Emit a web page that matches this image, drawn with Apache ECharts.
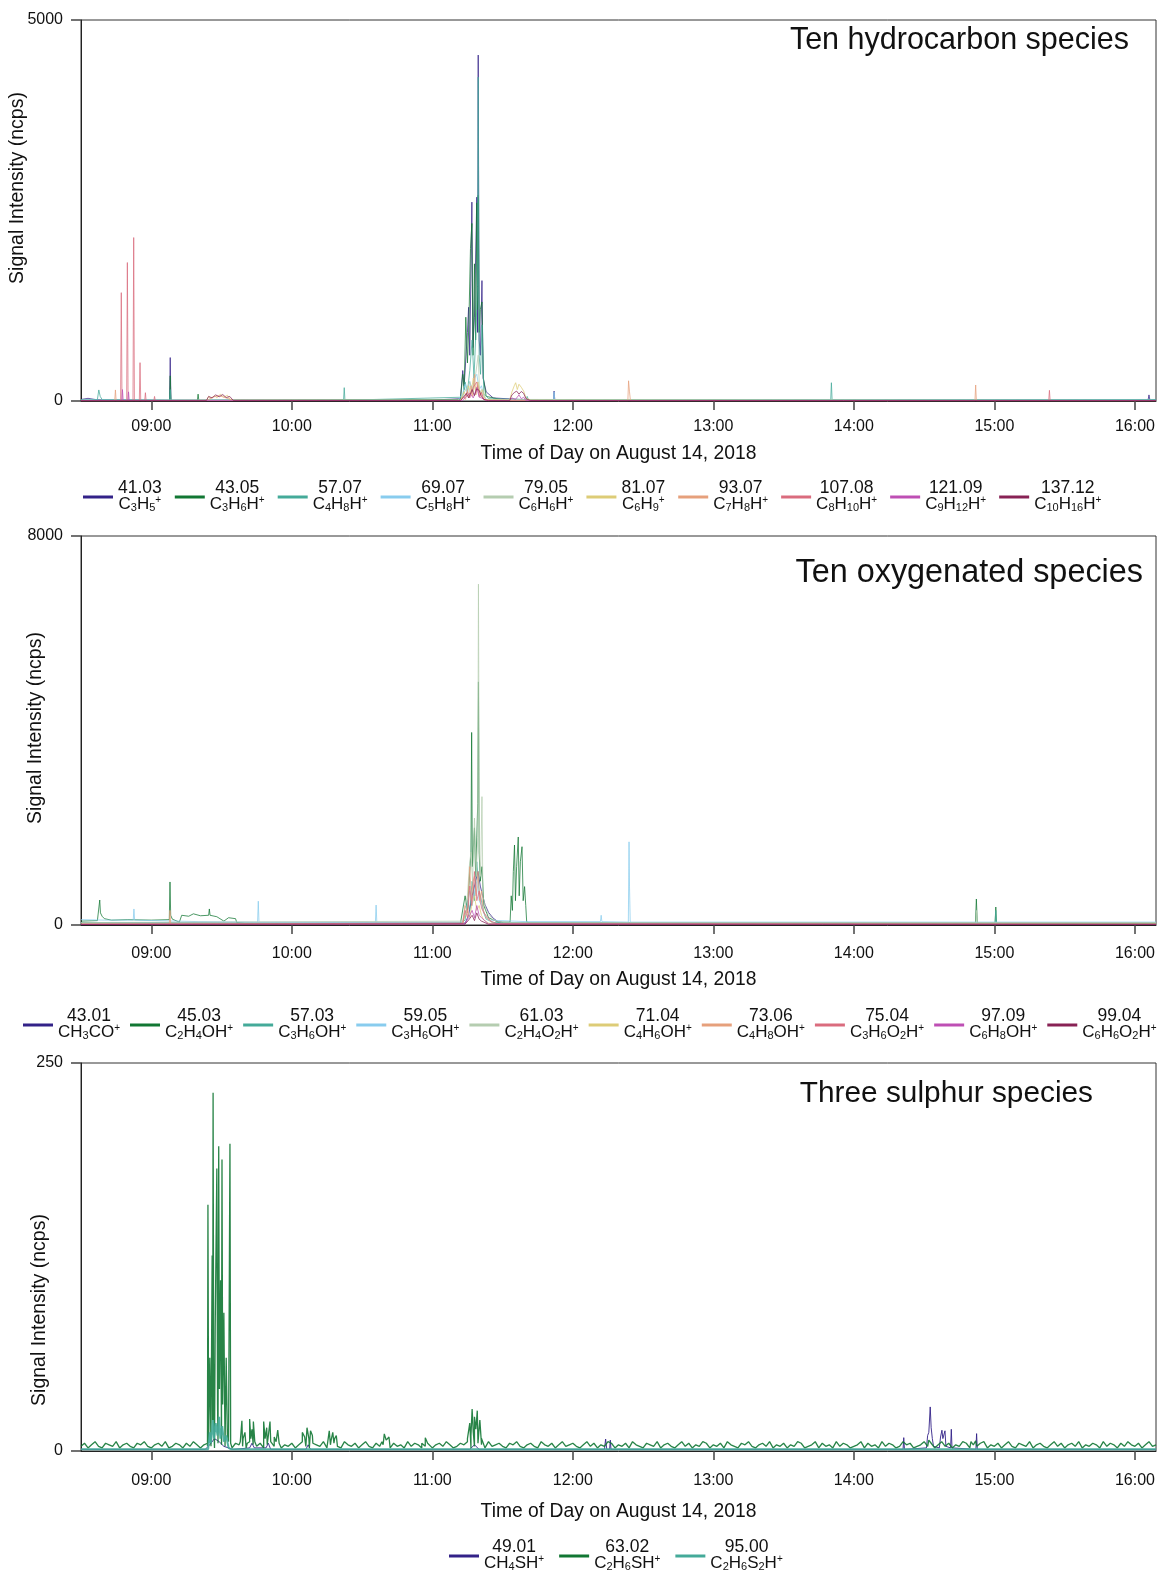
<!DOCTYPE html>
<html>
<head>
<meta charset="utf-8">
<script src="https://cdn.jsdelivr.net/npm/echarts@6/dist/echarts.min.js"></script>
<style>
  html, body { margin: 0; padding: 0; background: #fff; }
  #chart { width: 1159px; height: 1575px; }
</style>
</head>
<body>
<div id="chart"></div>
<script>
// Time is given in minutes of the day (e.g. 540 = 09:00).
const tickLabels = ['09:00', '10:00', '11:00', '12:00', '13:00', '14:00', '15:00', '16:00'];
const timeMin = 510;   // 08:30
const timeMax = 969;   // 16:09

const panelTitles = ['Ten hydrocarbon species', 'Ten oxygenated species', 'Three sulphur species'];
const panelYMax = [5000, 8000, 250];

// ---------- Hydrocarbons ----------
const hcNames = ['41.03', '43.05', '57.07', '69.07', '79.05', '81.07', '93.07', '107.08', '121.09', '137.12'];
const hcFormulas = ['C_3H_5^+', 'C_3H_6H^+', 'C_4H_8H^+', 'C_5H_8H^+', 'C_6H_6H^+', 'C_6H_9^+', 'C_7H_8H^+', 'C_8H_10H^+', 'C_9H_12H^+', 'C_10H_16H^+'];

const hc4103 = [[510,20],[513,35],[516,20],[520,15],[547.8,10],[548.1,570],[548.4,10],[600,10],[660,12],[672,30],[673,400],[673.6,200],[675,900],[675.5,1230],[676,600],[676.9,2610],[677.3,700],[678,1100],[679,2675],[679.3,900],[679.6,4540],[680,800],[680.5,600],[681.2,1580],[681.7,300],[683,120],[686,40],[700,15],[711.7,10],[712,130],[712.3,10],[780,10],[900,12],[965.6,10],[966,80],[966.4,10],[969,15]];
const hc4305 = [[510,10],[547.8,10],[548.1,330],[548.4,10],[559.7,10],[560,90],[560.3,10],[672,20],[673,350],[673.6,150],[674.3,1100],[675,500],[675.6,1000],[676.3,2000],[676.9,2330],[677.4,600],[678,1800],[678.5,800],[679,2600],[679.3,1200],[679.6,2700],[680,900],[680.5,1200],[681.2,1300],[681.8,300],[683,60],[690,15],[969,10]];
const hc5707 = [[510,15],[517,20],[517.6,145],[518.2,60],[519,20],[547.8,10],[548.1,150],[548.4,10],[622.1,10],[622.4,175],[622.7,10],[673,50],[674,250],[675,120],[676,400],[677,800],[677.8,300],[678.6,900],[679.3,1500],[679.6,4250],[680,600],[680.6,350],[681.2,1000],[682,100],[684,30],[700,20],[700.5,60],[701,20],[830.1,15],[830.4,240],[830.7,15],[969,20]];
const hc6907 = [[510,12],[600,10],[671,10],[673,100],[674,220],[675,90],[676,260],[677,120],[678,300],[679,350],[680,150],[681,200],[682,60],[683,20],[711.7,10],[712,120],[712.3,10],[760,10],[969,10]];
const hc7905 = [[510,8],[672,10],[673,80],[674.5,160],[676,250],[677.5,120],[679.6,600],[680.2,100],[681,150],[683,20],[969,8]];
const hc8107 = [[510,5],[563.5,5],[564.5,60],[565.5,30],[567,70],[568,40],[569.5,90],[571,50],[572.5,75],[574,10],[672,10],[673.5,120],[674.5,60],[675.5,200],[676.5,90],[677.5,300],[678.5,120],[679.5,250],[680.5,80],[681.5,150],[682.5,20],[693,10],[694,120],[695,200],[695.6,240],[696.3,150],[697,220],[698,180],[699,130],[700,40],[702,10],[969,5]];
const hc9307 = [[510,5],[524.4,5],[524.7,145],[525,5],[564,10],[566,50],[569,70],[572,40],[575,8],[672,8],[673.5,60],[674.2,20],[675,150],[675.6,40],[676.5,200],[677.2,60],[678,350],[678.6,80],[679.5,200],[680.3,50],[681,120],[681.7,30],[683,10],[743.5,5],[743.8,265],[744.2,120],[744.6,5],[891.7,5],[892,210],[892.3,5],[969,5]];
const hc10708 = [[510,5],[526.9,5],[527.2,1422],[527.5,5],[529.5,5],[529.8,1817],[530.1,5],[532.2,5],[532.5,2145],[532.8,5],[534.9,5],[535.2,503],[535.5,5],[537.2,5],[537.5,109],[537.8,5],[541.1,5],[541.4,60],[541.7,5],[672,5],[674,60],[675,120],[676,40],[677.5,180],[679,250],[680,60],[681,110],[682,20],[684,5],[923.2,5],[923.5,140],[923.8,5],[969,5]];
const hc12109 = [[510,5],[527.4,5],[527.7,150],[528,5],[530,5],[530.3,120],[530.6,5],[673,5],[674.5,60],[676,100],[677.5,40],[679,180],[680,50],[681,40],[683,5],[693,5],[694,40],[695.5,20],[697,80],[698,30],[699,50],[700,5],[969,5]];
const hc13712 = [[510,5],[563.5,5],[564.5,60],[566,40],[567.5,80],[569,55],[570.5,85],[572,45],[573.5,60],[575,8],[672,5],[673.5,60],[674.5,100],[675.5,40],[677,150],[678,70],[679,160],[680,140],[681,60],[682,20],[684,5],[693,5],[694,80],[695,110],[696,130],[697,90],[698,125],[699,100],[700,30],[702,5],[969,5]];

// ---------- Oxygenated ----------
const oxNames = ['43.01', '45.03', '57.03', '59.05', '61.03', '71.04', '73.06', '75.04', '97.09', '99.04'];
const oxFormulas = ['CH_3CO^+', 'C_2H_4OH^+', 'C_3H_6OH^+', 'C_3H_6OH^+', 'C_2H_4O_2H^+', 'C_4H_6OH^+', 'C_4H_8OH^+', 'C_3H_6O_2H^+', 'C_6H_8OH^+', 'C_6H_6O_2H^+'];

const ox4301 = [[510,40],[600,35],[674,40],[675.5,200],[677,600],[678.5,900],[679.5,1100],[680.5,800],[681.5,600],[682.5,420],[684,260],[686,140],[688,70],[691,40],[969,30]];
const ox4503 = [[510,80],[517,90],[517.7,100],[518,514],[518.3,250],[519,180],[520,130],[523,100],[530,110],[540,100],[547.7,110],[548,885],[548.3,200],[549,120],[552,60],[553,200],[556,180],[558,230],[561,190],[564.5,200],[564.8,330],[565.1,200],[568,170],[571,80],[573,150],[576,130],[576.5,50],[580,30],[672,30],[674,600],[675,300],[676.5,1500],[676.8,3960],[677.1,1200],[678,2000],[678.5,1000],[679.4,2500],[679.7,5000],[680,1500],[680.5,900],[681.2,1200],[682,400],[684,150],[688,60],[693.2,60],[693.7,600],[694.2,300],[694.6,1100],[695.1,1645],[695.5,500],[696,1200],[696.7,1810],[697.1,600],[697.6,1300],[698.3,1610],[698.8,500],[699.4,790],[699.9,400],[700.3,60],[702,40],[891.9,40],[892.3,535],[892.7,40],[900.3,40],[900.6,370],[900.9,40],[969,40]];
const ox5703 = [[510,50],[600,40],[672,40],[674,100],[675,500],[676,300],[677,900],[678,500],[679,1300],[680,700],[681,500],[682,250],[683,120],[686,50],[900.3,40],[900.6,300],[900.9,40],[969,40]];
const ox5905 = [[510,110],[520,100],[532.3,100],[532.6,330],[532.9,100],[560,70],[585.4,60],[585.7,490],[586,60],[635.7,60],[636,410],[636.3,60],[673,60],[674.5,300],[676,700],[677,400],[679,900],[680,500],[681,400],[682.5,200],[684,100],[700,70],[731.8,70],[732.1,200],[732.4,70],[743.7,60],[744,1710],[744.2,800],[744.5,60],[830,60],[969,60]];
const ox6103 = [[510,50],[673,80],[674,400],[675,600],[675.8,1200],[676.5,1500],[677.2,900],[678,2200],[678.7,1000],[679.4,1800],[679.7,7010],[680.1,1500],[680.6,1000],[681.2,2640],[681.6,600],[683,300],[686,100],[690,50],[892.1,50],[892.4,300],[892.7,50],[969,50]];
const ox7104 = [[510,20],[673,30],[674,200],[675,300],[676,150],[677,450],[678,600],[679,300],[680,400],[681,200],[682,100],[684,40],[686,20],[969,20]];
const ox7306 = [[510,20],[547.7,20],[548,300],[548.3,20],[673,40],[674,400],[675,250],[676,1200],[676.7,500],[677.4,900],[678,1000],[678.7,600],[679.5,1100],[680.2,500],[681,700],[681.8,300],[683,150],[686,30],[969,20]];
const ox7504 = [[510,15],[673,30],[674,300],[675,150],[676,800],[676.8,400],[677.5,700],[678,1100],[679,500],[680,700],[681,350],[682,250],[685,80],[688,20],[969,15]];
const ox9709 = [[510,10],[674,20],[675.5,150],[677,300],[678,150],[679,400],[680,200],[681,150],[684,20],[969,10]];
const ox9904 = [[510,10],[674,20],[675.5,100],[677,200],[678,90],[679,250],[680,120],[681,80],[684,15],[969,10]];

// ---------- Sulphur ----------
const suNames = ['49.01', '63.02', '95.00'];
const suFormulas = ['CH_4SH^+', 'C_2H_6SH^+', 'C_2H_6S_2H^+'];

const su4901 = [[510,1],[563,1],[565,4],[567,8],[569,6],[571,3],[575,1],[582,2],[583,5],[584,2],[589,2],[590,5],[591,1],[606,1],[607,4],[608,1],[676,1],[678,4],[680,1],[733.5,1],[734,7.7],[734.5,1],[735.7,1],[736,7],[736.3,1],[861,1],[861.3,8.6],[861.6,1],[871,2],[871.5,10],[872,12],[872.6,28.4],[873,15],[873.5,8],[874,3],[876.5,2],[877,9],[877.6,13.4],[878,8],[878.9,13],[879.3,3],[881.3,2],[881.6,14],[881.9,2],[892.1,1],[892.4,11.2],[892.7,1],[969,1]];
// 63.02 background readings, one every 1.5 min from 08:30
const su6302Step = 1.5;
const su6302Background = [
  3,5,2,4,6,3,2,5,4,3,6,2,4,5,3,2,5,4,6,3,
  2,4,5,3,6,2,3,5,4,2,5,3,6,4,2,4,5,3,2,5,
  4,3,6,2,5,4,3,2,6,4,3,5,2,4,6,3,5,2,4,3,
  5,2,4,6,3,2,5,4,3,6,2,4,5,3,2,6,4,3,5,2,
  4,6,3,2,5,3,4,6,2,5,3,4,2,6,3,5,4,2,3,5,
  2,4,5,3,6,4,2,3,5,4,6,2,3,5,4,2,6,3,4,5,
  3,2,5,4,6,3,2,4,5,3,2,6,4,3,5,2,4,6,3,4,
  5,3,2,4,6,3,5,2,4,3,6,5,2,4,3,5,2,6,4,3,
  2,5,4,3,6,2,4,5,3,2,4,6,3,5,2,4,3,6,5,2,
  4,3,5,2,6,4,3,2,5,4,6,3,2,4,5,3,6,2,4,3,
  5,2,4,3,6,5,2,3,4,6,2,5,3,4,2,6,3,5,4,2,
  3,4,6,2,5,3,4,2,6,3,5,4,2,3,6,4,5,2,3,4,
  6,3,5,2,4,6,3,5,2,4,3,6,5,2,4,3,5,6,2,4,
  3,5,2,4,6,3,2,5,4,3,6,2,4,5,3,2,4,6,3,5,
  2,4,5,3,6,2,4,3,5,4,2,6,3,5,4,2,5,3,6,4,
  3,5,2,4,6,3,4
];
// 63.02 episodes above background
const su6302Events = [[564,3],[564.2,158.7],[564.5,5],[565,60],[565.5,10],[566,126],[566.2,20],[566.4,230.8],[566.7,15],[567.3,80],[568,182],[568.3,30],[568.8,196.4],[569.1,40],[569.6,110],[570,50],[570.2,187.8],[570.5,30],[571,89],[571.4,20],[572,60],[572.5,10],[573.6,198],[573.9,5],
[578,6],[578.7,19.4],[579.2,8],[580,12],[581,5],[582,20.6],[582.5,8],[583,14],[583.6,19],[584.2,6],[588,19],[588.6,8],[589.3,15],[590,10],[590.7,19],[591.3,6],[592.5,9],[593.3,6],[594,13.5],[594.6,5],
[604.5,12],[605.5,9],[606.5,15],[607.3,8],[608,13],[608.8,10],[616,13],[616.8,7],[617.5,12],[618.3,8],[619,10],[638.5,6],[639.5,11],[640.3,7],[641.5,9],[655.5,5],[657,8.6],[658,5],
[675,8],[676,18],[676.5,10],[677,27],[677.5,12],[678,22],[678.6,14],[679.2,26],[679.8,11],[680.3,20],[681,8],[872,7],[878,6.5],[890,6],[892,6.5]];
const su9500 = [[510,1.2],[563,1.2],[564.3,1.2],[565,12],[565.5,5],[566.3,20],[566.8,8],[567.5,18],[568.3,10],[569,22],[569.5,8],[570.3,16],[571,6],[572,10],[573,2],[574,1.2],[969,1.2]];

// Background readings plus episodes, merged in time order
const su6302 = su6302Background
  .map((v, i) => [timeMin + i * su6302Step, v])
  .concat(su6302Events)
  .sort((a, b) => a[0] - b[0]);

// ---------- Styling ----------
const palette = ['#332288', '#117733', '#44AA99', '#88CCEE', '#B5CDB0', '#DDCC77', '#E6A07C', '#DA6C7E', '#BE4FB4', '#882255'];
const FONT = '"Liberation Sans", Arial, Helvetica, sans-serif';

const hcData = [hc4103, hc4305, hc5707, hc6907, hc7905, hc8107, hc9307, hc10708, hc12109, hc13712];
const oxData = [ox4301, ox4503, ox5703, ox5905, ox6103, ox7104, ox7306, ox7504, ox9709, ox9904];
const suData = [su4901, su6302, su9500];

const formulaOf = {};
hcNames.forEach((n, i) => formulaOf[n] = hcFormulas[i]);
oxNames.forEach((n, i) => formulaOf[n] = oxFormulas[i]);
suNames.forEach((n, i) => formulaOf[n] = suFormulas[i]);

// 'C_3H_5^+' -> rich text with subscripts and superscripts
function formulaRich(f) {
  let out = '', i = 0;
  while (i < f.length) {
    const ch = f[i];
    if (ch === '_') {
      let j = i + 1, d = '';
      while (j < f.length && /\d/.test(f[j])) { d += f[j]; j++; }
      out += '{s|' + d + '}';
      i = j;
    } else if (ch === '^') {
      out += '{p|' + f[i + 1] + '}';
      i += 2;
    } else {
      let j = i, t = '';
      while (j < f.length && f[j] !== '_' && f[j] !== '^') { t += f[j]; j++; }
      out += '{b|' + t + '}';
      i = j;
    }
  }
  return out;
}

const tickValues = tickLabels.map(s => { const p = s.split(':'); return +p[0] * 60 + +p[1]; });
const fmtTime = v => { const h = Math.floor(v / 60), m = Math.round(v - h * 60); return String(h).padStart(2, '0') + ':' + String(m).padStart(2, '0'); };

const grids = [
  { left: 81, top: 20, right: 3, height: 381 },
  { left: 81, top: 536, right: 3, height: 389 },
  { left: 81, top: 1063, right: 3, height: 388 }
];
const xLabelMargin = [18, 21, 22];
const xNameGap = [43, 45, 51];

const axisColor = '#222';
const xAxes = grids.map((g, i) => ({
  type: 'value', gridIndex: i, min: timeMin, max: timeMax,
  name: 'Time of Day on August 14, 2018', nameLocation: 'middle', nameGap: xNameGap[i],
  nameTextStyle: { fontFamily: FONT, fontSize: 19.3, color: '#111' },
  axisLine: { lineStyle: { color: axisColor, width: 1 } },
  axisTick: { show: true, customValues: tickValues, length: 9, lineStyle: { color: '#444', width: 1.5 } },
  axisLabel: { customValues: tickValues, formatter: fmtTime, margin: xLabelMargin[i], fontFamily: FONT, fontSize: 16, color: '#111' },
  splitLine: { show: false }
}));

const yAxes = grids.map((g, i) => ({
  type: 'value', gridIndex: i, min: 0, max: panelYMax[i], interval: panelYMax[i],
  axisLine: { show: true, lineStyle: { color: axisColor, width: 1 } },
  axisTick: { show: true, length: 10, lineStyle: { color: '#444', width: 1.5 } },
  axisLabel: { margin: 18, fontFamily: FONT, fontSize: 16, color: '#111', formatter: v => String(v) },
  splitLine: { show: false }
}));

const richStyles = {
  n: { fontFamily: FONT, fontSize: 17.5, lineHeight: 14, align: 'center', color: '#111' },
  b: { fontFamily: FONT, fontSize: 17, lineHeight: 18, align: 'center', color: '#111' },
  s: { fontFamily: FONT, fontSize: 11, lineHeight: 8, verticalAlign: 'bottom', align: 'center', color: '#111' },
  p: { fontFamily: FONT, fontSize: 10, lineHeight: 8, verticalAlign: 'top', align: 'center', color: '#111' }
};

function makeLegend(names, left, top, gap) {
  return {
    data: names, left: left, top: top, orient: 'horizontal', itemGap: gap, padding: 0,
    icon: 'rect', itemWidth: 30, itemHeight: 3,
    selectedMode: false,
    formatter: name => '{n|' + name + '}\n' + formulaRich(formulaOf[name]),
    textStyle: { rich: richStyles }
  };
}

const series = [];
function addSeries(names, data, gi, widths, opacity) {
  names.forEach((n, i) => {
    series.push({
      name: n, type: 'line', xAxisIndex: gi, yAxisIndex: gi,
      data: data[i], showSymbol: false, symbol: 'none',
      color: palette[i],
      lineStyle: { width: widths ? widths[i] : 1, opacity: opacity },
      emphasis: { disabled: true },
      animation: false
    });
  });
}
addSeries(hcNames, hcData, 0, null, 0.75);
addSeries(oxNames, oxData, 1, null, 0.75);
addSeries(suNames, suData, 2, [1, 1.3, 2], 0.9);

const yNamePos = [[18, 188], [36, 728], [40, 1310]];
const titleSize = [30.5, 32.4, 29.8];
const titlePos = [{ right: 25, top: 20 }, { right: 11, top: 552 }, { right: 61, top: 1074 }];

const option = {
  backgroundColor: '#fff',
  animation: false,
  title: panelTitles.map((t, i) => Object.assign({ text: t, textStyle: { fontFamily: FONT, fontSize: titleSize[i], fontWeight: 'normal', color: '#111' } }, titlePos[i])),
  grid: grids.map(g => Object.assign({ show: true, borderColor: '#333', borderWidth: 1, backgroundColor: 'transparent' }, g)),
  xAxis: xAxes,
  yAxis: yAxes,
  legend: [
    makeLegend(hcNames, 83, 479, 13),
    makeLegend(oxNames, 23, 1007, 10),
    makeLegend(suNames, 449, 1538, 15)
  ],
  graphic: yNamePos.map(p => ({
    type: 'text', x: p[0], y: p[1], rotation: Math.PI / 2,
    style: { text: 'Signal Intensity (ncps)', font: '19.5px ' + FONT, fill: '#111', textAlign: 'center', textVerticalAlign: 'middle' }
  })),
  series: series
};

const chart = echarts.init(document.getElementById('chart'), null, { renderer: 'canvas' });
chart.setOption(option);
</script>
</body>
</html>
